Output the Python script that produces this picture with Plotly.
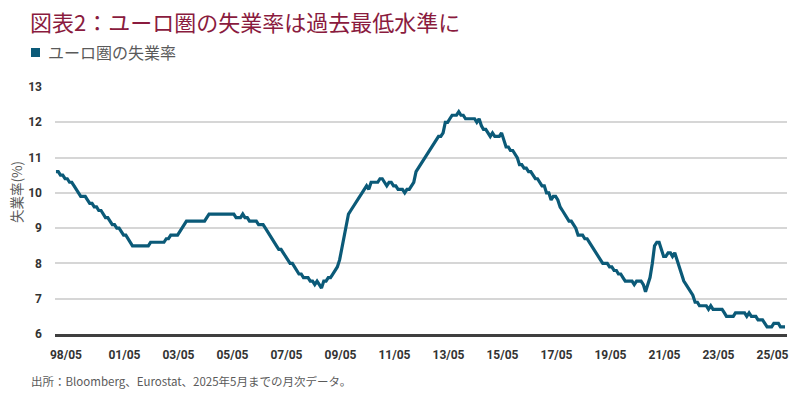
import pandas as pd
import plotly.graph_objects as go

# Euro area unemployment rate (%), monthly, 1998/05 - 2025/05
y1998 = [10.6, 10.6, 10.5, 10.5, 10.4, 10.4, 10.3, 10.3]
y1999 = [10.2, 10.1, 10.0, 9.9, 9.9, 9.9, 9.8, 9.7, 9.7, 9.6, 9.6, 9.5]
y2000 = [9.5, 9.4, 9.3, 9.3, 9.2, 9.1, 9.1, 9.0, 9.0, 8.9, 8.8, 8.8]
y2001 = [8.7, 8.6, 8.5, 8.5, 8.5, 8.5, 8.5, 8.5, 8.5, 8.5, 8.6, 8.6]
y2002 = [8.6, 8.6, 8.6, 8.6, 8.6, 8.7, 8.7, 8.8, 8.8, 8.8, 8.8, 8.9]
y2003 = [9.0, 9.1, 9.2, 9.2, 9.2, 9.2, 9.2, 9.2, 9.2, 9.2, 9.2, 9.3]
y2004 = [9.4, 9.4, 9.4, 9.4, 9.4, 9.4, 9.4, 9.4, 9.4, 9.4, 9.4, 9.4]
y2005 = [9.3, 9.3, 9.3, 9.4, 9.3, 9.3, 9.2, 9.2, 9.2, 9.2, 9.1, 9.1]
y2006 = [9.1, 9.0, 8.9, 8.8, 8.7, 8.6, 8.5, 8.4, 8.4, 8.3, 8.2, 8.1]
y2007 = [8.0, 8.0, 7.9, 7.8, 7.7, 7.7, 7.6, 7.6, 7.6, 7.5, 7.5, 7.4]
y2008 = [7.5, 7.4, 7.3, 7.5, 7.5, 7.6, 7.6, 7.7, 7.8, 7.9, 8.1, 8.4]
y2009 = [8.8, 9.1, 9.4, 9.5, 9.6, 9.7, 9.8, 9.9, 10.0, 10.1, 10.2, 10.1]
y2010 = [10.3, 10.3, 10.3, 10.3, 10.4, 10.4, 10.3, 10.2, 10.3, 10.3, 10.2, 10.2]
y2011 = [10.1, 10.1, 10.1, 10.0, 10.1, 10.1, 10.2, 10.3, 10.6, 10.7, 10.8, 10.9]
y2012 = [11.0, 11.1, 11.2, 11.3, 11.4, 11.5, 11.6, 11.6, 11.7, 12.0, 12.0, 12.1]
y2013 = [12.2, 12.2, 12.2, 12.3, 12.2, 12.2, 12.1, 12.1, 12.1, 12.1, 12.1, 12.0]
y2014 = [12.1, 11.9, 11.8, 11.8, 11.7, 11.6, 11.7, 11.6, 11.6, 11.6, 11.7, 11.5]
y2015 = [11.3, 11.3, 11.2, 11.2, 11.1, 11.0, 10.8, 10.8, 10.7, 10.7, 10.6, 10.6]
y2016 = [10.5, 10.4, 10.4, 10.3, 10.2, 10.2, 10.0, 10.0, 9.8, 9.9, 9.9, 9.8]
y2017 = [9.6, 9.5, 9.4, 9.3, 9.2, 9.2, 9.1, 9.0, 8.8, 8.8, 8.8, 8.7]
y2018 = [8.7, 8.6, 8.5, 8.4, 8.3, 8.2, 8.1, 8.0, 8.0, 8.0, 7.9, 7.9]
y2019 = [7.8, 7.8, 7.7, 7.7, 7.6, 7.5, 7.5, 7.5, 7.5, 7.4, 7.5, 7.5]
y2020 = [7.5, 7.4, 7.2, 7.4, 7.6, 8.0, 8.5, 8.6, 8.6, 8.4, 8.2, 8.2]
y2021 = [8.3, 8.3, 8.2, 8.3, 8.1, 7.9, 7.7, 7.5, 7.4, 7.3, 7.2, 7.1]
y2022 = [6.9, 6.9, 6.8, 6.8, 6.8, 6.8, 6.7, 6.8, 6.7, 6.7, 6.7, 6.7]
y2023 = [6.7, 6.6, 6.5, 6.5, 6.5, 6.5, 6.6, 6.6, 6.6, 6.6, 6.6, 6.5]
y2024 = [6.6, 6.5, 6.5, 6.5, 6.4, 6.4, 6.4, 6.3, 6.2, 6.2, 6.2, 6.3]
y2025 = [6.3, 6.3, 6.2, 6.2, 6.2]

unemployment = (y1998 + y1999 + y2000 + y2001 + y2002 + y2003 + y2004 + y2005
                + y2006 + y2007 + y2008 + y2009 + y2010 + y2011 + y2012 + y2013
                + y2014 + y2015 + y2016 + y2017 + y2018 + y2019 + y2020 + y2021
                + y2022 + y2023 + y2024 + y2025)
months = pd.date_range("1998-05-01", periods=len(unemployment), freq="MS")

x_tick_labels = ["98/05", "01/05", "03/05", "05/05", "07/05", "09/05", "11/05",
                 "13/05", "15/05", "17/05", "19/05", "21/05", "23/05", "25/05"]
x_tick_pos = ["1998-09-13"] + [f"{int(l[:2]) + 1999}-11-13" for l in x_tick_labels[1:]]
y_ticks = [6, 7, 8, 9, 10, 11, 12, 13]

title_text = "図表2：ユーロ圏の失業率は過去最低水準に"
legend_text = "ユーロ圏の失業率"
y_title = "失業率(%)"
footnote = "出所：Bloomberg、Eurostat、2025年5月までの月次データ。"

LINE = "#0b5a78"
CJK = "Noto Sans CJK JP"

fig = go.Figure()
fig.add_trace(go.Scatter(x=months, y=unemployment, mode="lines",
                         line=dict(color=LINE, width=3.2), showlegend=False,
                         name=legend_text))

L, R, T, B = 55, 13, 87, 65
W, H = 800, 399
pw, ph = W - L - R, H - T - B

def px(x):
    return (x - L) / pw

def py(y):
    return (H - B - y) / ph

fig.update_layout(
    width=W, height=H,
    margin=dict(l=L, r=R, t=T, b=B),
    paper_bgcolor="white", plot_bgcolor="white",
    title=dict(text=title_text, x=30 / W, xanchor="left", xref="container",
               y=1 - 23 / H, yanchor="middle", yref="container",
               font=dict(family=CJK, size=22, color="#8a1b3e")),
    xaxis=dict(type="date", range=["1998-04-18", "2025-05-28"],
               tickvals=x_tick_pos, ticktext=x_tick_labels,
               showgrid=False, zeroline=False,
               showline=True, linecolor="#3f3f3f", linewidth=2.5,
               ticks="", ticklabelstandoff=8,
               tickfont=dict(family="Roboto", size=12, color="#333333", weight="bold")),
    yaxis=dict(range=[6, 13], tickvals=y_ticks, showgrid=True,
               gridcolor="#d6d6d6", gridwidth=1.5, zeroline=False,
               showline=False, ticks="", ticklabelstandoff=12,
               tickfont=dict(family="Roboto", size=12, color="#333333", weight="bold")),
    shapes=[dict(type="rect", xref="paper", yref="paper",
                 x0=px(31), x1=px(40), y0=py(57), y1=py(48),
                 fillcolor=LINE, line=dict(width=0))],
    annotations=[
        dict(text=legend_text, xref="paper", yref="paper", x=px(46), y=py(52),
             xanchor="left", yanchor="middle", showarrow=False,
             font=dict(family=CJK, size=16, color="#5a5a5a")),
        dict(text=y_title, xref="paper", yref="paper", x=px(16), y=py(192),
             xanchor="center", yanchor="middle", showarrow=False, textangle=-90,
             font=dict(family=CJK, size=13.5, color="#5a5a5a")),
        dict(text=footnote, xref="paper", yref="paper", x=px(29), y=py(381),
             xanchor="left", yanchor="middle", showarrow=False,
             font=dict(family=CJK, size=11.5, color="#5a5a5a")),
    ],
)

fig.write_html("out.html", config={"displayModeBar": False},
               post_script="document.body.style.margin='0';document.body.style.padding='0';")
